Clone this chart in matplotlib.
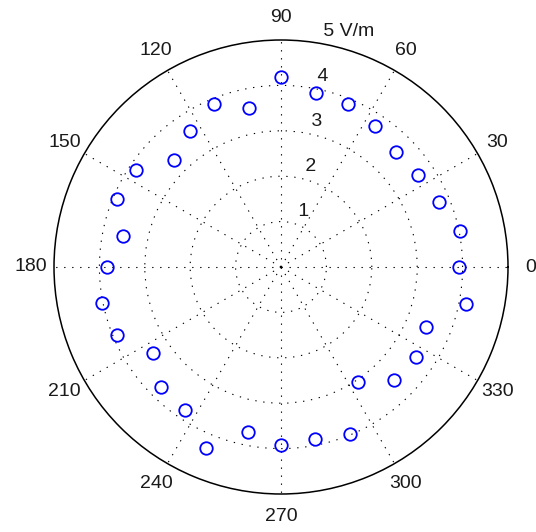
import numpy as np
import matplotlib
matplotlib.use("Agg")
import matplotlib.pyplot as plt

plt.rcParams["font.family"] = ["Liberation Sans", "DejaVu Sans"]

angles_deg = np.arange(0, 360, 11.25)
field_vm = [3.92, 4.03, 3.76, 3.64, 3.58, 3.74, 3.88, 3.90,
            4.19, 3.58, 3.88, 3.61, 3.34, 3.85, 3.91, 3.55,
            3.84, 4.02, 3.90, 3.39, 3.73, 3.79, 4.32, 3.70,
            3.91, 3.87, 3.97, 3.04, 3.52, 3.58, 3.45, 4.15]

theta_ticks = list(range(0, 360, 30))
r_ticks = [1, 2, 3, 4, 5]
r_max = 5
unit = "V/m"

DOTS = (0, (1.2, 6))
TXT = "#1a1a1a"

fig = plt.figure(figsize=(5.36, 5.32), dpi=100)
fig.patch.set_facecolor("white")
ax = fig.add_axes([54 / 536, 38 / 532, 454 / 536, 454 / 532], projection="polar")

ax.plot(np.deg2rad(angles_deg), field_vm, linestyle="none", marker="o",
        markersize=9, markerfacecolor="none", markeredgecolor="#0000ff",
        markeredgewidth=1.3, zorder=3)

ax.set_ylim(0, r_max)
ax.set_rgrids(r_ticks[:-1], labels=[])
ax.set_thetagrids(theta_ticks, labels=[])
ax.grid(True, color="k", linestyle=DOTS, linewidth=0.8)
ax.spines["polar"].set_color("black")
ax.spines["polar"].set_linewidth(1.1)
ax.tick_params(length=0)

# étiquettes d'angle, comme polar() de MATLAB : à 1.1 * rmax
for t in theta_ticks:
    ax.text(np.deg2rad(t), 1.1 * r_max, str(t), ha="center", va="center",
            fontsize=14, color=TXT, clip_on=False)

# étiquettes radiales le long du rayon à 82 degrés
for r in r_ticks:
    label = f" {r}" if r < r_max else f" {r} {unit}"
    ax.annotate(label, (np.deg2rad(82), r + 0.05), xytext=(4, 0),
                textcoords="offset points", ha="left", va="bottom",
                fontsize=14, color=TXT, annotation_clip=False)

fig.savefig("out.png", dpi=100, facecolor="white")
